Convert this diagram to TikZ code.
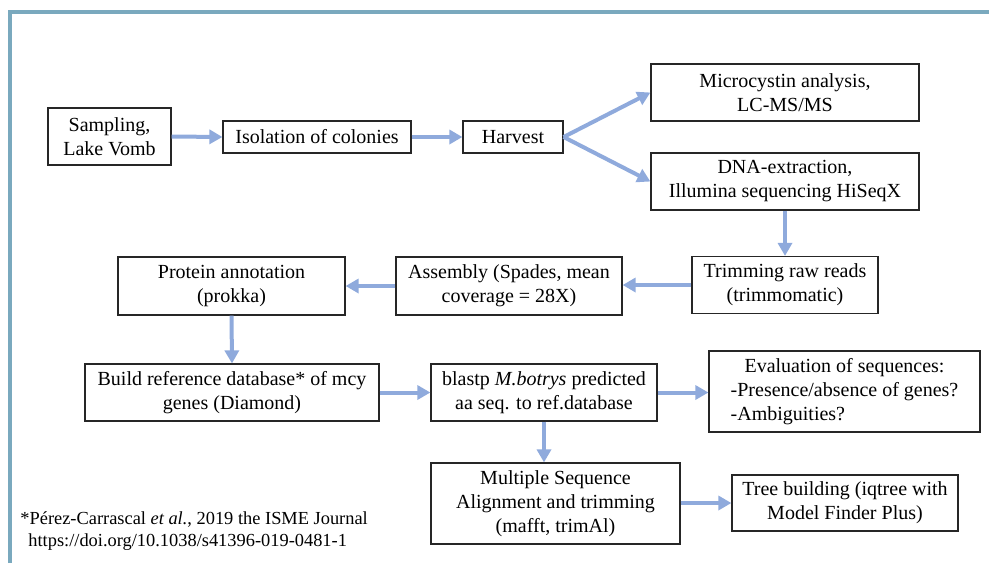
\documentclass[tikz,border=0pt]{standalone}
\usepackage{fontspec}
\setmainfont{Liberation Serif}
\usetikzlibrary{arrows.meta}
\definecolor{FrameTeal}{HTML}{7AA9BE}
\definecolor{ArrowBlue}{HTML}{8FAADC}
\tikzstyle{BoxStep} = [draw=black!85,line width=0.6pt,inner sep=0pt,align=center]
\tikzstyle{FlowArrow} = [color=ArrowBlue,line width=2pt,-{Triangle[length=6.5pt,width=7pt]}]

\begin{document}
\begin{tikzpicture}[x=0.5pt,y=-0.5pt]
\useasboundingbox (0,0) rectangle (989,563);
\tikzstyle{BoxStep} = [draw=black!85,line width=0.6pt,inner sep=0pt,align=center]
\tikzstyle{FlowArrow} = [color=ArrowBlue,line width=2pt,-{Triangle[length=6.5pt,width=7pt]}]

\draw [line width=2pt,FrameTeal] (10,563) -- (10,12) -- (989,12);

% first row
\node (samp) at (109.5,136.5) [BoxStep,minimum width=61.5pt,minimum height=28.5pt] {Sampling,\\Lake Vomb};
\node (iso) at (317,137) [BoxStep,minimum width=94pt,minimum height=16pt] {Isolation of colonies};
\node (harv) at (513,137) [BoxStep,minimum width=50pt,minimum height=16pt] {Harvest};
\node (micro) at (785,92.5) [BoxStep,minimum width=134pt,minimum height=28.5pt] {Microcystin analysis,\\LC-MS/MS};
\node (dna) at (785,181.5) [BoxStep,minimum width=134pt,minimum height=28.5pt] {DNA-extraction,\\Illumina sequencing HiSeqX};

% second row
\node (trim) at (785,285) [BoxStep,minimum width=93pt,minimum height=28.5pt] {Trimming raw reads\\(trimmomatic)};
\node (asm) at (509,286) [BoxStep,minimum width=113pt,minimum height=29pt] {Assembly (Spades, mean\\coverage = 28X)};
\node (prot) at (231.5,286) [BoxStep,minimum width=113.5pt,minimum height=29pt] {Protein annotation\\(prokka)};

% third row
\node (build) at (232,392.5) [BoxStep,minimum width=147pt,minimum height=28.5pt] {Build reference database* of mcy\\genes (Diamond)};
\node (blast) at (544,392.5) [BoxStep,minimum width=113pt,minimum height=28.5pt] {blastp \textit{M.botrys} predicted\\aa seq. to ref.database};
\node (eval) at (844.5,391.5) [BoxStep,minimum width=135.5pt,minimum height=40.5pt] {\begin{tabular}{@{}l@{}}\multicolumn{1}{@{}c@{}}{Evaluation of sequences:}\\-Presence/absence of genes?\\-Ambiguities?\end{tabular}};

% fourth row
\node (msa) at (555.5,503.5) [BoxStep,minimum width=124.5pt,minimum height=40.5pt] {Multiple Sequence\\Alignment and trimming\\(mafft, trimAl)};
\node (tree) at (845,503) [BoxStep,minimum width=113pt,minimum height=28pt] {Tree building (iqtree with\\Model Finder Plus)};

\node (note) at (20,511) [anchor=north west,inner sep=0pt,align=left,font=\fontsize{9.2}{11}\selectfont] {*Pérez-Carrascal \textit{et al.}, 2019 the ISME Journal\\\hspace{4pt}https://doi.org/10.1038/s41396-019-0481-1};

\draw [FlowArrow] (samp.east) -- (iso.west);
\draw [FlowArrow] (iso.east) -- (harv.west);
\draw [FlowArrow] (harv.east) -- (micro.west);
\draw [FlowArrow] (harv.east) -- (dna.west);
\draw [FlowArrow] (dna.south) -- (trim.north);
\draw [FlowArrow] (trim.west) -- (trim.west -| asm.east);
\draw [FlowArrow] (asm.west) -- (prot.east);
\draw [FlowArrow] (prot.south) -- (build.north);
\draw [FlowArrow] (build.east) -- (blast.west);
\draw [FlowArrow] (blast.east) -- (blast.east -| eval.west);
\draw [FlowArrow] (blast.south) -- (blast.south |- msa.north);
\draw [FlowArrow] (msa.east |- tree.west) -- (tree.west);

\end{tikzpicture}
\end{document}
